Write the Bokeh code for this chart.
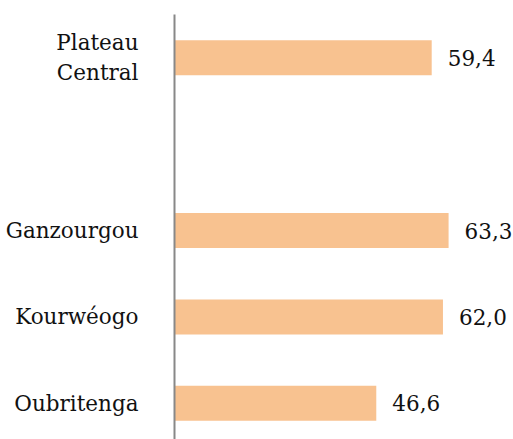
from bokeh.plotting import figure
from bokeh.models import Range1d, FixedTicker, ColumnDataSource
from bokeh.embed import file_html
from bokeh.resources import INLINE
from bokeh.core.properties import value
import math

categories = ["Plateau Central", "", "Ganzourgou", "Kourwéogo", "Oubritenga"]
tick_labels = ["Plateau\nCentral", "", "Ganzourgou", "Kourwéogo", "Oubritenga"]
values = [59.4, float("nan"), 63.3, 62.0, 46.6]

n = len(categories)
ypos = [n - i - 0.5 for i in range(n)]
keep = [i for i in range(n) if not math.isnan(values[i])]

src = ColumnDataSource(dict(
    y=[ypos[i] for i in keep],
    v=[values[i] for i in keep],
    lab=[f"{values[i]:.1f}".replace(".", ",") for i in keep],
))

FONT = "DejaVu Serif"
FS = "21.5px"
W, H = 513, 439
LEFT, TOP = 174, 14
px_per_slot = 86.4
frame_h = H - TOP

p = figure(width=W, height=H, output_backend="svg", toolbar_location=None,
           x_range=Range1d(0, (W - LEFT) / 4.33),
           y_range=Range1d(n - frame_h / px_per_slot, n),
           min_border_left=LEFT, min_border_top=TOP, min_border_right=0,
           min_border_bottom=0)

p.hbar(y="y", left=0, right="v", height=0.405, source=src,
       fill_color="#F8C290", line_color=None)
p.text(x="v", y="y", text="lab", source=src, x_offset=16,
       text_baseline="middle", text_align="left", text_font=value(FONT),
       text_font_size=FS, text_color="#111111")

p.xaxis.visible = False
p.xgrid.visible = False
p.ygrid.visible = False
p.outline_line_color = None

ya = p.yaxis[0]
ya.ticker = FixedTicker(ticks=[ypos[i] for i in keep])
ya.major_label_overrides = {ypos[i]: tick_labels[i] for i in keep}
ya.major_label_text_font = FONT
ya.major_label_text_font_size = FS
ya.major_label_text_color = "#111111"
ya.major_label_standoff = 30
ya.major_tick_line_color = None
ya.minor_tick_line_color = None
ya.axis_line_color = "#888888"
ya.axis_line_width = 2

open("out.html", "w").write(file_html(p, INLINE))
